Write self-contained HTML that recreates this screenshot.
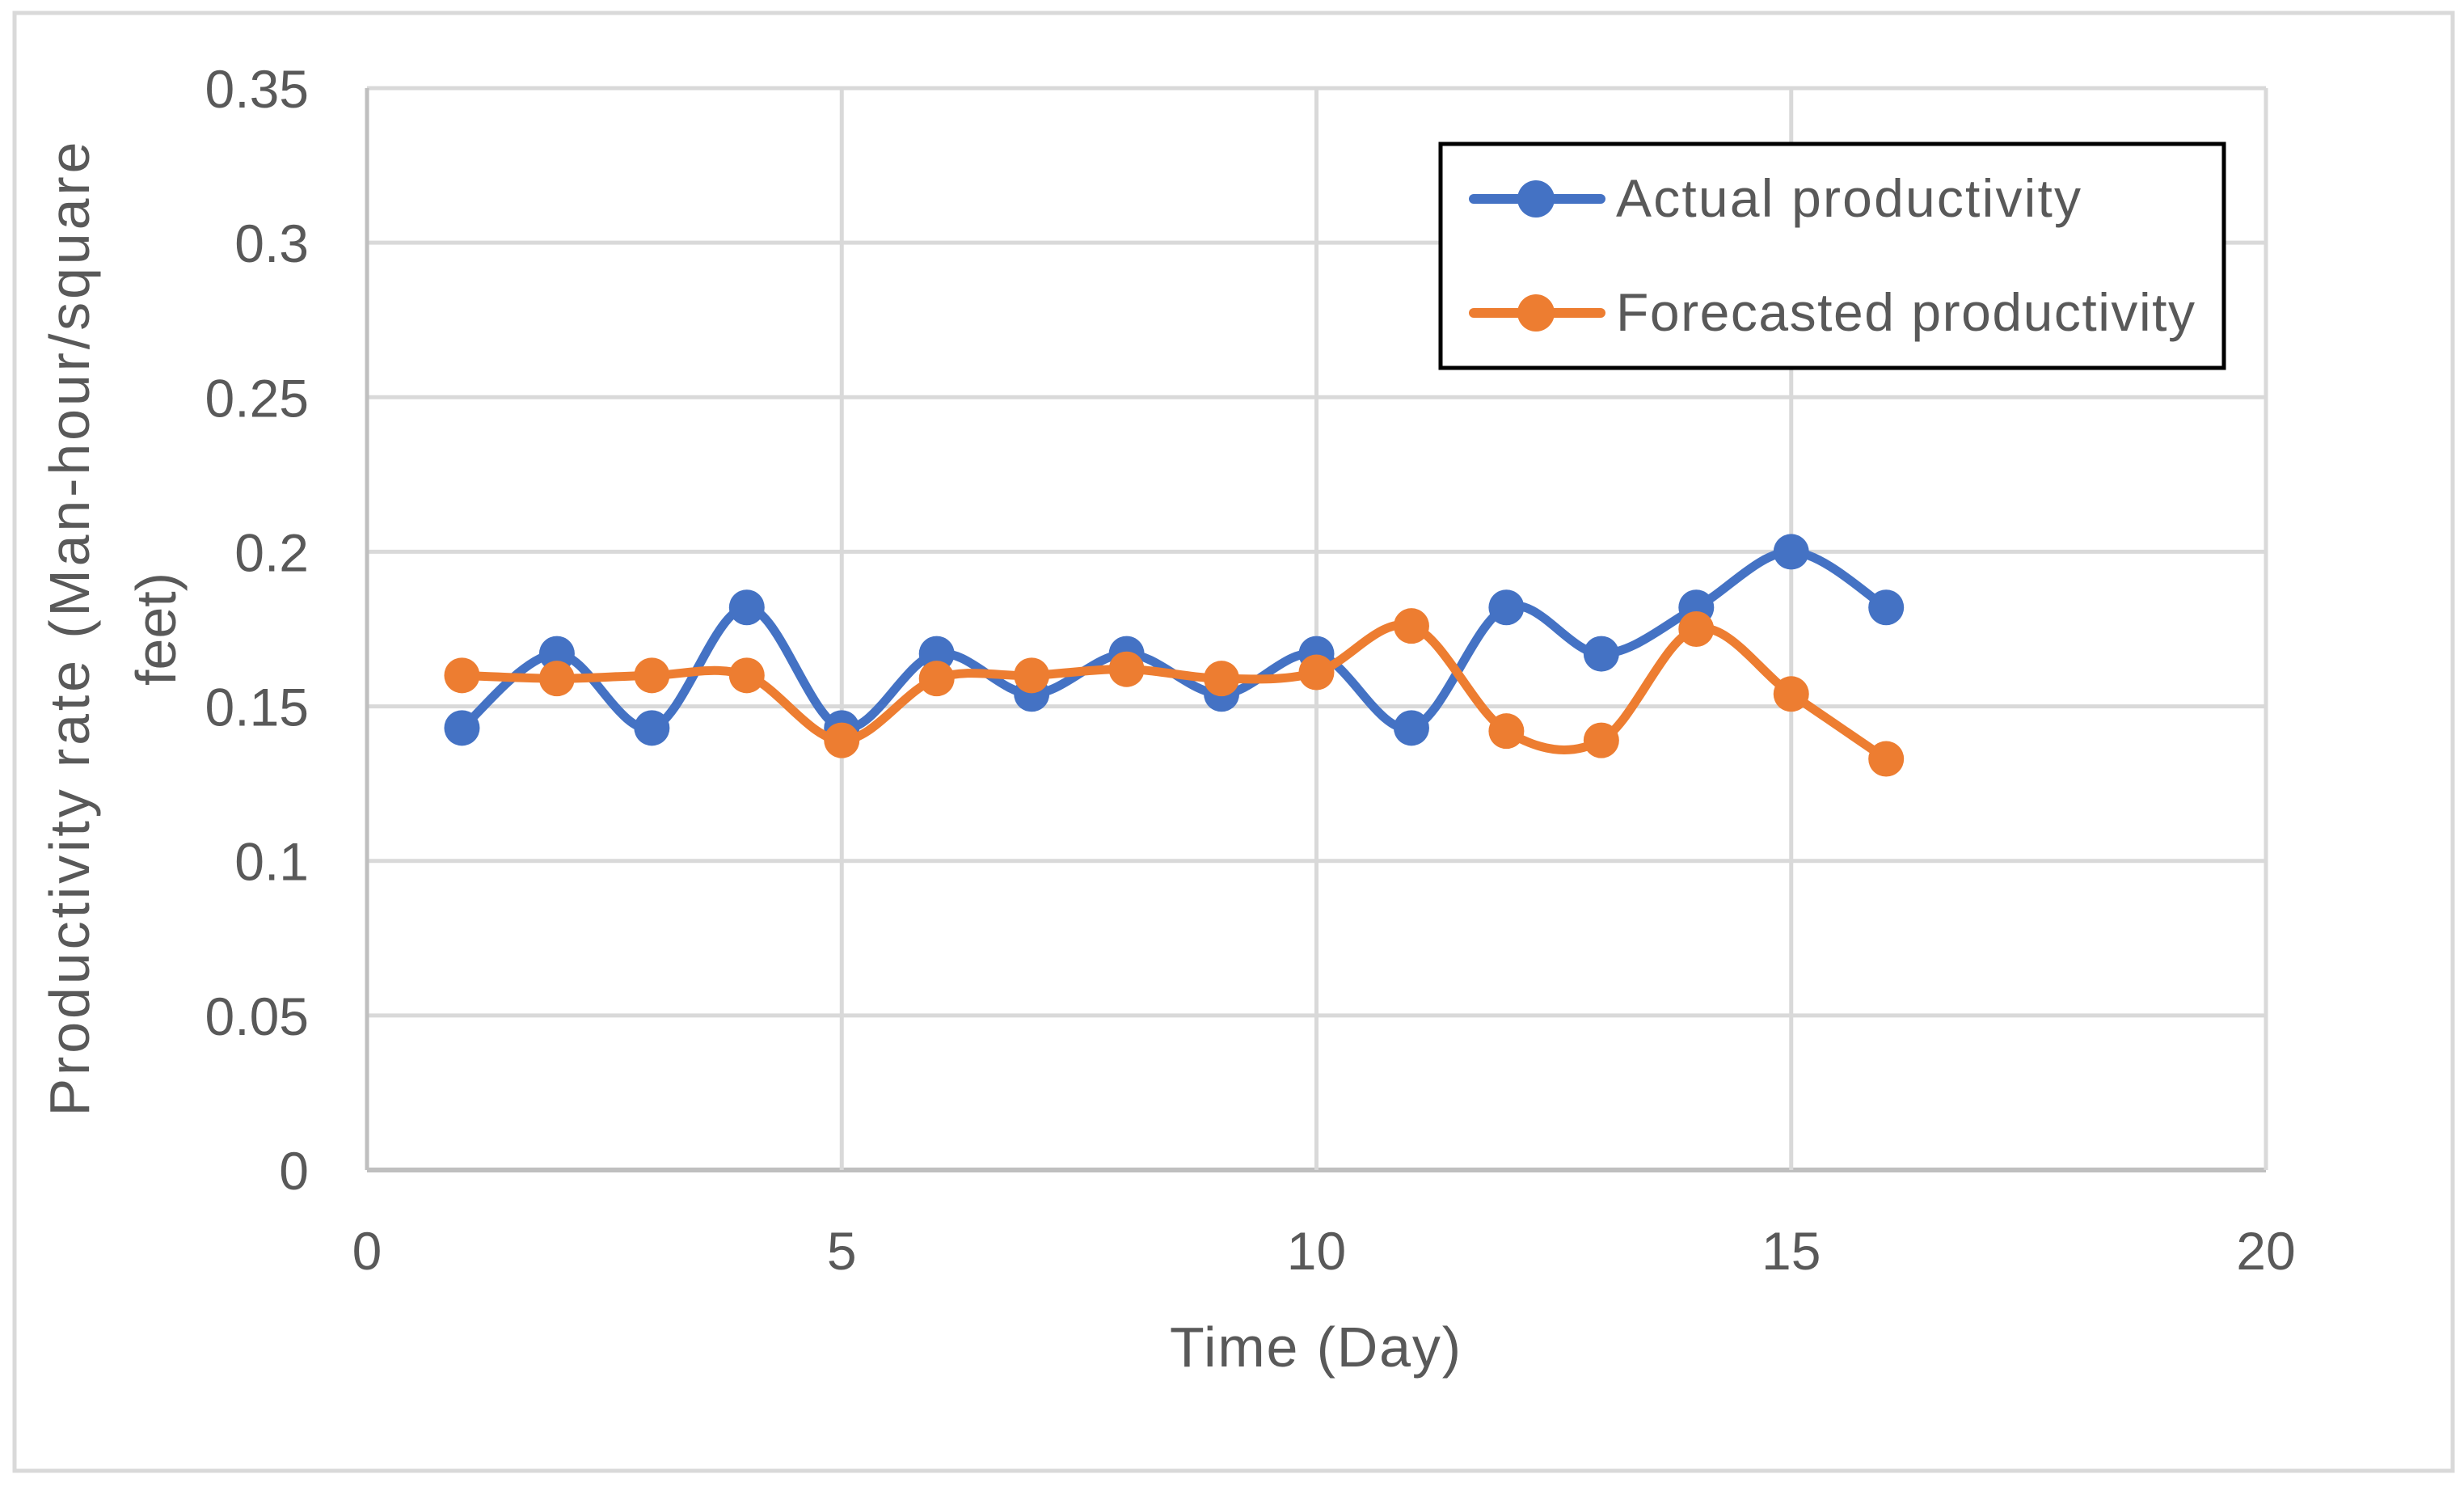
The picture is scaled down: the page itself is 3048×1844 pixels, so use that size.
<!DOCTYPE html>
<html><head><meta charset="utf-8"><style>
html,body{margin:0;padding:0;background:#fff;}
svg{display:block;font-family:"Liberation Sans",sans-serif;}
</style></head><body>
<svg id="chart" width="3048" height="1844" viewBox="0 0 3048 1844">
<rect x="18" y="16" width="3016" height="1803" fill="#fff" stroke="#d9d9d9" stroke-width="5"/>
<g id="grid"></g>
<g id="ticks"></g>
<g id="series"></g>
<text x="1627" y="1690" text-anchor="middle" font-size="70" fill="#595959" textLength="360">Time (Day)</text>
<g transform="translate(110,778) rotate(-90)">
<text x="0" y="0" text-anchor="middle" font-size="70" fill="#595959" textLength="1205">Productivity rate (Man-hour/square</text>
<text x="0" y="107" text-anchor="middle" font-size="70" fill="#595959">feet)</text>
</g>
<g>
<rect x="1782" y="178" width="969" height="277" fill="#fff" stroke="#000" stroke-width="5"/>
<g>
<line x1="1823" y1="246" x2="1980" y2="246" stroke="#4472C4" stroke-width="12" stroke-linecap="round"/>
<circle cx="1900" cy="246" r="23" fill="#4472C4"/>
<text x="1999" y="268" font-size="66" fill="#595959" textLength="575">Actual productivity</text>
</g>
<g>
<line x1="1823" y1="387" x2="1980" y2="387" stroke="#ED7D31" stroke-width="12" stroke-linecap="round"/>
<circle cx="1900" cy="387" r="23" fill="#ED7D31"/>
<text x="1999" y="409" font-size="66" fill="#595959" textLength="716">Forecasted productivity</text>
</g>
</g>
</svg>
<script>
const days = [1,2,3,4,5,6,7,8,9,10,11,12,13,14,15,16];
const actualValues = [0.143,0.167,0.143,0.182,0.143,0.167,0.154,0.167,0.154,0.167,0.143,0.182,0.167,0.182,0.2,0.182];
const forecastValues = [0.16,0.159,0.16,0.16,0.139,0.159,0.16,0.162,0.159,0.161,0.176,0.142,0.139,0.175,0.154,0.133];
const xTicks = [0,5,10,15,20];
const yTicks = [0,0.05,0.1,0.15,0.2,0.25,0.3,0.35];
const yTickLabels = ["0","0.05","0.1","0.15","0.2","0.25","0.3","0.35"];

const X0=454, X1=2803, Y0=1447, Y1=109;
const xs = v => X0 + (v-0)/(20-0)*(X1-X0);
const ys = v => Y0 - (v-0)/(0.35-0)*(Y0-Y1);
const NS="http://www.w3.org/2000/svg";
const grid=document.getElementById('grid'), ticks=document.getElementById('ticks'), series=document.getElementById('series');
function mk(tag, attrs, parent){const e=document.createElementNS(NS,tag);for(const k in attrs)e.setAttribute(k,attrs[k]);parent.appendChild(e);return e;}

yTicks.forEach((t,i)=>{
  const l=mk('line',{x1:X0,x2:X1,y1:ys(t),y2:ys(t),stroke:(t===0?'#bfbfbf':'#d9d9d9'),'stroke-width':(t===0?6:5)},grid);
  
  
  const tx=mk('text',{x:382,y:ys(t)+24,'text-anchor':'end','font-size':66,fill:'#595959'},ticks);
  tx.textContent=yTickLabels[i];
  
  
});
xTicks.forEach(t=>{
  const l=mk('line',{x1:xs(t),x2:xs(t),y1:Y1,y2:Y0,stroke:(t===0?'#bfbfbf':'#d9d9d9'),'stroke-width':5},grid);
  
  
  const tx=mk('text',{x:xs(t),y:1570,'text-anchor':'middle','font-size':66,fill:'#595959'},ticks);
  tx.textContent=String(t);
  
  
});

function smoothPath(pts){
  let d=`M${pts[0][0]},${pts[0][1]}`;
  for(let i=0;i<pts.length-1;i++){
    const p0=pts[Math.max(0,i-1)],p1=pts[i],p2=pts[i+1],p3=pts[Math.min(pts.length-1,i+2)];
    const c1=[p1[0]+(p2[0]-p0[0])/6,p1[1]+(p2[1]-p0[1])/6];
    const c2=[p2[0]-(p3[0]-p1[0])/6,p2[1]-(p3[1]-p1[1])/6];
    d+=` C${c1[0]},${c1[1]} ${c2[0]},${c2[1]} ${p2[0]},${p2[1]}`;
  }
  return d;
}
function drawSeries(vals,color,name){
  const g=mk('g',{},series);
  
  
  const pts=days.map((d,i)=>[xs(d),ys(vals[i])]);
  const p=mk('path',{d:smoothPath(pts),fill:'none',stroke:color,'stroke-width':11,'stroke-linejoin':'round','stroke-linecap':'round'},g);
  
  
  pts.forEach(pt=>{
    const c=mk('circle',{cx:pt[0],cy:pt[1],r:22,fill:color},g);
    
    
  });
}
drawSeries(actualValues,'#4472C4','actual');
drawSeries(forecastValues,'#ED7D31','forecast');
</script>
</body></html>
